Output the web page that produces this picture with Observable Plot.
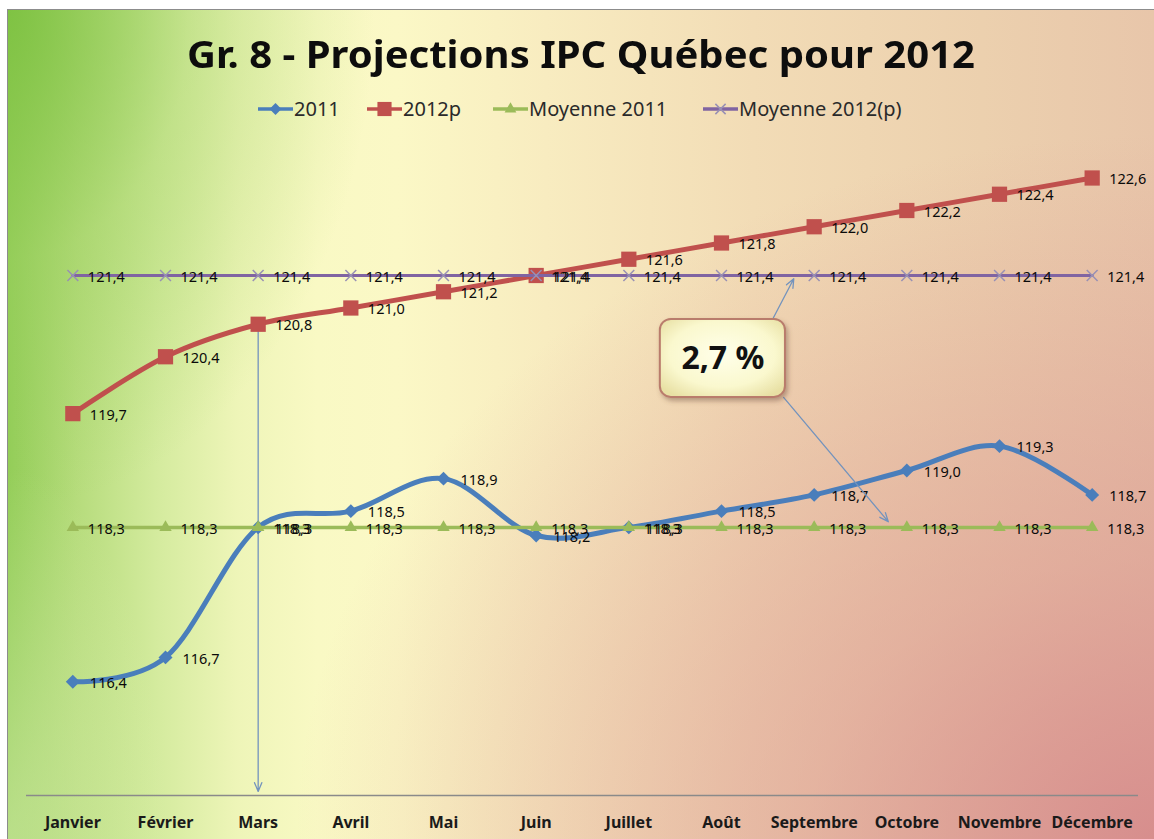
<!DOCTYPE html>
<html>
<head>
<meta charset="utf-8">
<script src="https://cdn.jsdelivr.net/npm/d3@7"></script>
<script src="https://cdn.jsdelivr.net/npm/@observablehq/plot@0.6"></script>
<style>
html,body{margin:0;padding:0;background:#fff;}
#page{position:relative;width:1154px;height:839px;overflow:hidden;background:#fff;font-family:"Noto Sans",sans-serif;}
#bg{position:absolute;left:7px;top:9px;right:0;bottom:0;border-top:1.5px solid #8c8c8c;border-left:1.5px solid #8c8c8c;
background:
radial-gradient(ellipse 14% 45% at 0% 100%, rgba(232,244,196,0.45) 0%, rgba(232,244,196,0) 100%),
radial-gradient(ellipse 75% 85% at 100% 100%, rgba(212,132,136,0.85) 0%, rgba(216,142,140,0.5) 40%, rgba(220,160,150,0) 100%),
radial-gradient(ellipse 32% 60% at 0% 0%, rgba(122,192,62,0.8) 0%, rgba(150,205,90,0.35) 50%, rgba(160,210,100,0) 100%),
linear-gradient(to right, #93cd58 0%, #b6dc7c 6%, #d4eb9e 13%, #eef5b8 20%, #f9f9c4 27%, #fbf8c6 34%, #f8ecc0 47%, #f2dcb6 65%, #ecd0ae 85%, #e8c6aa 100%);}
#title{position:absolute;left:187px;top:34px;font-size:38px;line-height:38px;font-weight:bold;color:#0d0d0d;white-space:nowrap;transform-origin:0 0;}
.leg{position:absolute;top:99px;height:20px;display:flex;align-items:center;white-space:nowrap;font-size:20px;line-height:20px;color:#2a2a2a;}
.leg svg{display:block;margin-right:1px;}
#chart{position:absolute;left:0;top:135px;}
</style>
</head>
<body>
<div id="page">
  <div id="bg"></div>
  <div id="title"></div>
  <div id="legend"></div>
  <div id="chart"></div>
</div>
<script>
// ---------- data ----------
const months = ["Janvier","Février","Mars","Avril","Mai","Juin","Juillet","Août","Septembre","Octobre","Novembre","Décembre"];
const ipc2011 = [116.4,116.7,118.3,118.5,118.9,118.2,118.3,118.5,118.7,119.0,119.3,118.7];
const ipc2012p = [119.7,120.4,120.8,121.0,121.2,121.4,121.6,121.8,122.0,122.2,122.4,122.6];
const moy2011 = [118.3,118.3,118.3,118.3,118.3,118.3,118.3,118.3,118.3,118.3,118.3,118.3];
const moy2012p = [121.4,121.4,121.4,121.4,121.4,121.4,121.4,121.4,121.4,121.4,121.4,121.4];
const seriesNames = ["2011","2012p","Moyenne 2011","Moyenne 2012(p)"];
const titleText = "Gr. 8 - Projections IPC Québec pour 2012";
const calloutText = "2,7 %";
const yDomain = [115, 123];

// annotation geometry, in data units (month index, IPC)
const marsArrow = {x1: 2, y1: 120.8, x2: 2, y2: 115.05};
const calloutBox = {x1: 6.34, x2: 7.69, y1: 120.86, y2: 119.90};
const calloutArrows = [
  {x1: 7.56, y1: 120.88, x2: 7.78, y2: 121.36},
  {x1: 7.67, y1: 119.90, x2: 8.80, y2: 118.37}
];

const colors = {blue:"#4a7ebb", red:"#c0504d", green:"#9bbb59", purple:"#8064a2", times:"#9890b4", box:"#f8f6c8"};
const fmt = v => v.toFixed(1).replace(".", ",");
const rows = arr => arr.map((v, i) => ({i, v}));
const d11 = rows(ipc2011), d12 = rows(ipc2012p), dm11 = rows(moy2011), dm12 = rows(moy2012p);

// ---------- title ----------
const t = document.getElementById("title");
t.textContent = titleText;
const tw = t.getBoundingClientRect().width;
t.style.transform = `scaleX(${788 / tw})`;

// ---------- legend ----------
const legendSpec = [
  {name: seriesNames[0], x: 258, color: colors.blue, sym: d3.symbolDiamond2, size: 90, fill: true},
  {name: seriesNames[1], x: 367, color: colors.red, sym: d3.symbolSquare, size: 200, fill: true},
  {name: seriesNames[2], x: 493, color: colors.green, sym: d3.symbolTriangle, size: 60, fill: true},
  {name: seriesNames[3], x: 703, color: colors.purple, sym: d3.symbolTimes, size: 70, fill: false}
];
const legend = document.getElementById("legend");
for (const s of legendSpec) {
  const div = document.createElement("div");
  div.className = "leg";
  div.style.left = s.x + "px";
  const sv = d3.create("svg").attr("width", 35).attr("height", 20);
  sv.append("line").attr("x1", 0).attr("x2", 35).attr("y1", 10).attr("y2", 10)
    .attr("stroke", s.color).attr("stroke-width", 3.5);
  sv.append("path").attr("d", d3.symbol(s.sym, s.size)()).attr("transform", "translate(17.5,10)")
    .attr("fill", s.fill ? s.color : "none").attr("stroke", s.fill ? "none" : colors.times).attr("stroke-width", 1.5);
  div.appendChild(sv.node());
  const sp = document.createElement("span");
  sp.textContent = s.name;
  div.appendChild(sp);
  legend.appendChild(div);
}

// ---------- chart ----------
const labelStyle = {fontSize: 14.5, fill: "#0a0a0a", textAnchor: "start", dy: 1.5, fontWeight: "normal"};
const chart = Plot.plot({
  width: 1154, height: 704,
  marginTop: 10, marginBottom: 44, marginLeft: 26, marginRight: 16,
  style: {background: "transparent", overflow: "visible", fontFamily: "Noto Sans, sans-serif", fontSize: "16px", fontWeight: "bold", color: "#1a1a1a"},
  x: {domain: [-0.5, 11.5], ticks: d3.range(12), tickFormat: i => months[i], tickSize: 0, tickPadding: 21, label: null},
  y: {domain: yDomain, axis: null},
  marks: [
    Plot.ruleY([yDomain[0]], {stroke: "#8a8a8a", strokeWidth: 1.5}),
    Plot.arrow([marsArrow], {x1: "x1", y1: "y1", x2: "x2", y2: "y2", stroke: "#7393bd", strokeWidth: 1.3, headLength: 11, headAngle: 45}),
    Plot.line(d11, {x: "i", y: "v", stroke: colors.blue, strokeWidth: 5, curve: "cardinal"}),
    Plot.dot(d11, {x: "i", y: "v", symbol: "diamond2", r: 6.3, fill: colors.blue}),
    Plot.line(d12, {x: "i", y: "v", stroke: colors.red, strokeWidth: 5, curve: "cardinal"}),
    Plot.dot(d12, {x: "i", y: "v", symbol: "square", r: 8.6, fill: colors.red}),
    Plot.line(dm11, {x: "i", y: "v", stroke: colors.green, strokeWidth: 3.5}),
    Plot.dot(dm11, {x: "i", y: "v", symbol: "triangle", r: 4.6, fill: colors.green}),
    Plot.line(dm12, {x: "i", y: "v", stroke: colors.purple, strokeWidth: 3}),
    Plot.dot(dm12, {x: "i", y: "v", symbol: "times", r: 5, fill: "none", stroke: colors.times, strokeWidth: 1.5}),
    Plot.text(d11, {x: "i", y: "v", text: d => fmt(d.v), dx: 17, ...labelStyle}),
    Plot.text(d12, {x: "i", y: "v", text: d => fmt(d.v), dx: 17, ...labelStyle}),
    Plot.text(dm11, {x: "i", y: "v", text: d => fmt(d.v), dx: 15, ...labelStyle}),
    Plot.text(dm12, {x: "i", y: "v", text: d => fmt(d.v), dx: 15, ...labelStyle}),
    Plot.arrow(calloutArrows, {x1: "x1", y1: "y1", x2: "x2", y2: "y2", stroke: "#7393bd", strokeWidth: 1.3, headLength: 11, headAngle: 45}),
    Plot.rect([calloutBox], {x1: "x1", x2: "x2", y1: "y1", y2: "y2", fill: colors.box, stroke: "#b97c6c", strokeWidth: 2}),
    Plot.text([calloutBox], {x: d => (d.x1 + d.x2) / 2, y: d => (d.y1 + d.y2) / 2, text: () => calloutText, fontSize: 32, fontWeight: "bold", fill: "#111"})
  ]
});
document.getElementById("chart").appendChild(chart);

// rounded, shaded callout box
const svgEl = chart.tagName.toLowerCase() === "svg" ? chart : chart.querySelector("svg");
const svg = d3.select(svgEl);
const defs = svg.insert("defs", ":first-child");
const g = defs.append("radialGradient").attr("id", "cg").attr("cx", "50%").attr("cy", "45%").attr("r", "65%");
g.append("stop").attr("offset", "0%").attr("stop-color", "#ffffea");
g.append("stop").attr("offset", "65%").attr("stop-color", "#faf8ce");
g.append("stop").attr("offset", "100%").attr("stop-color", "#e8e0a4");
const f = defs.append("filter").attr("id", "sh").attr("x", "-20%").attr("y", "-20%").attr("width", "150%").attr("height", "150%");
f.append("feDropShadow").attr("dx", 2).attr("dy", 3).attr("stdDeviation", 2.5).attr("flood-color", "#6b4a3a").attr("flood-opacity", 0.45);
svg.selectAll("rect").filter(function() {
  const p = this.parentNode;
  return (this.getAttribute("fill") || "").toLowerCase() === colors.box || (p && (p.getAttribute("fill") || "").toLowerCase() === colors.box);
}).attr("rx", 11).attr("ry", 11).attr("fill", "url(#cg)").attr("filter", "url(#sh)");
</script>
</body>
</html>
